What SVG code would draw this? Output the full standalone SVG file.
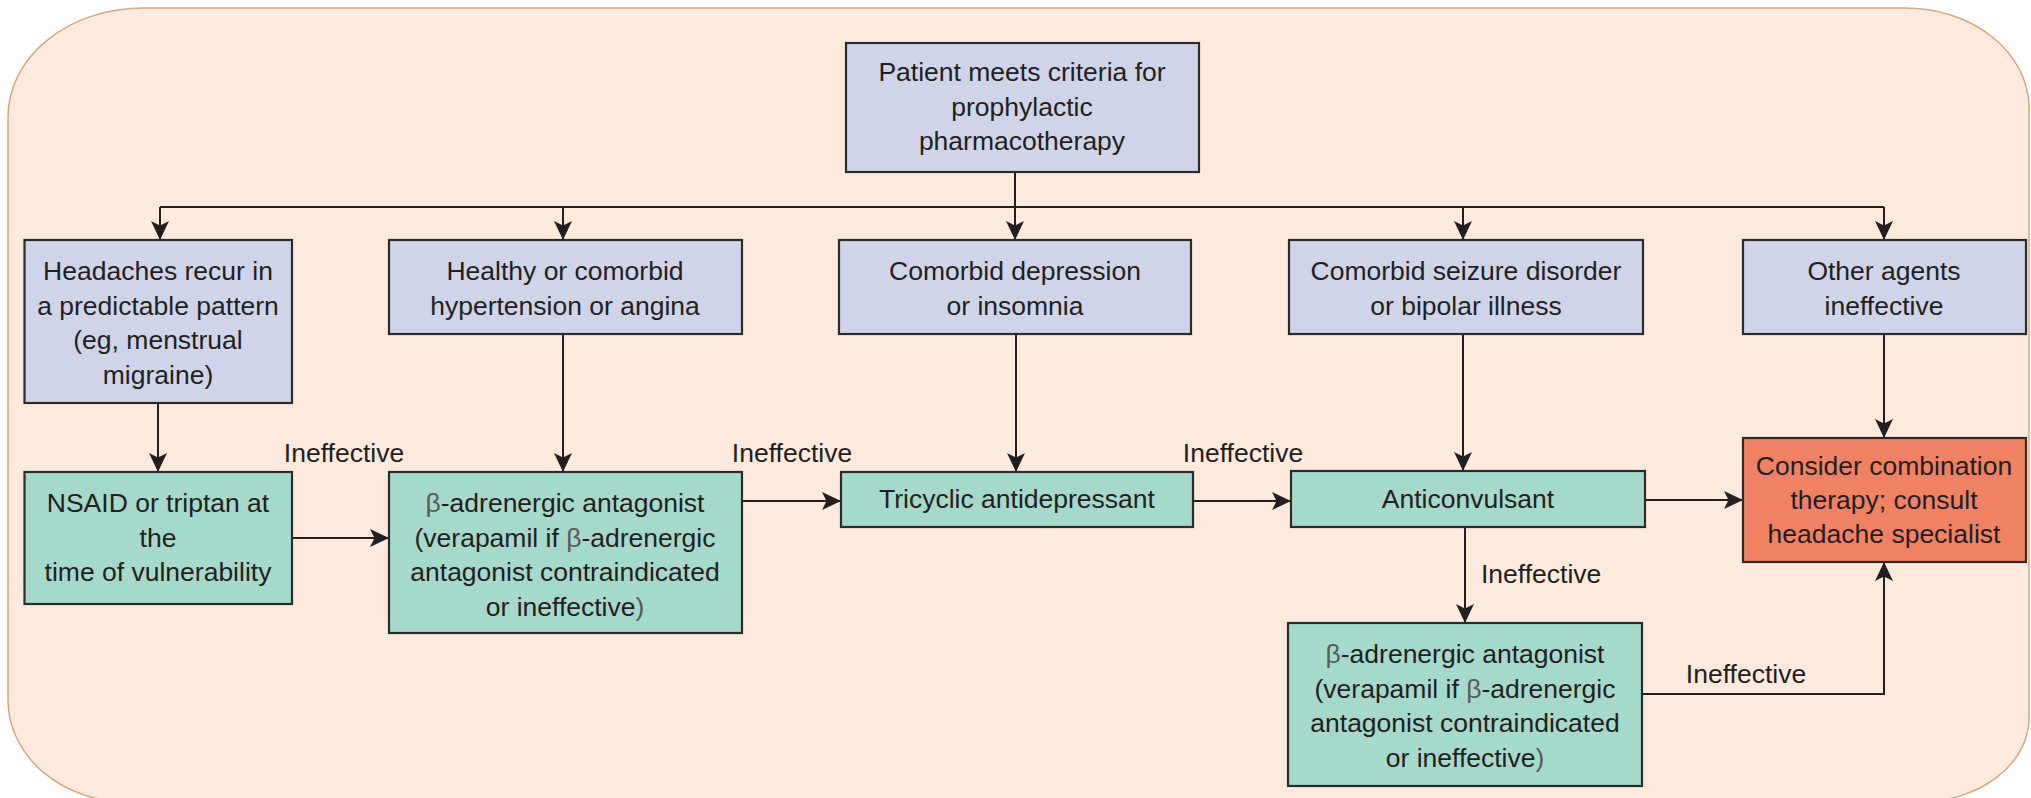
<svg xmlns="http://www.w3.org/2000/svg" width="2031" height="798" viewBox="0 0 2031 798">
<style>
.t{font-family:"Liberation Sans",Arial,sans-serif;font-size:26.5px;fill:#231f20;text-anchor:middle}
.l{font-family:"Liberation Sans",Arial,sans-serif;font-size:26.5px;fill:#231f20}
.b{fill:#5a5a5a}
.q{fill:#cfd4ea;stroke:#2b2b2b;stroke-width:2.2}
.g{fill:#a5d9cb;stroke:#2b2b2b;stroke-width:2.2}
.o{fill:#f08165;stroke:#2b2b2b;stroke-width:2.2}
.c{fill:none;stroke:#231f20;stroke-width:2;marker-end:url(#ah)}
.c2{fill:none;stroke:#231f20;stroke-width:2}
</style>
<defs>
<marker id="ah" viewBox="0 0 19 18" refX="19" refY="9" markerWidth="19" markerHeight="18" markerUnits="userSpaceOnUse" orient="auto">
<path d="M0,0 L19,9 L0,18 L4.5,9 Z" fill="#231f20"/>
</marker>
</defs>
<rect width="2031" height="798" fill="#ffffff"/>
<path id="background" d="M8,117 A135,109 0 0 1 143,8 L1905,8 A124,100 0 0 1 2029,108 L2029,718 A110,84 0 0 1 1919,802 L128,802 A120,102 0 0 1 8,700 Z" fill="#fdeadd" stroke="#d7a77f" stroke-width="1.5"/>

<g id="connectors">
<path class="c2" d="M1015,172 V207 M160,207 H1884"/>
<path class="c" d="M1015,207 V240"/>
<path class="c" d="M160,207 V240"/>
<path class="c" d="M563,207 V240"/>
<path class="c" d="M1463,207 V240"/>
<path class="c" d="M1884,207 V240"/>
<path class="c" d="M158,403 V472"/>
<path class="c" d="M563,334 V472"/>
<path class="c" d="M1016,334 V472"/>
<path class="c" d="M1463,334 V471"/>
<path class="c" d="M1884,334 V438"/>
<path class="c" d="M292,538 H389"/>
<path class="c" d="M742,501 H841"/>
<path class="c" d="M1193,501 H1291"/>
<path class="c" d="M1645,500 H1743"/>
<path class="c" d="M1465,527 V623"/>
<path class="c" d="M1642,694 H1884 V562"/>
<text class="t" x="344" y="462">Ineffective</text>
<text class="t" x="792" y="462">Ineffective</text>
<text class="t" x="1243" y="462">Ineffective</text>
<text class="l" x="1481" y="583">Ineffective</text>
<text class="t" x="1746" y="683">Ineffective</text>
</g>

<g id="patient">
<rect class="q" x="846" y="43" width="353" height="129"/>
<text class="t" x="1022" y="81">Patient meets criteria for</text>
<text class="t" x="1022" y="115.5">prophylactic</text>
<text class="t" x="1022" y="150">pharmacotherapy</text>
</g>

<g id="headaches">
<rect class="q" x="24.5" y="240" width="267.5" height="163"/>
<text class="t" x="158" y="280">Headaches recur in</text>
<text class="t" x="158" y="314.5">a predictable pattern</text>
<text class="t" x="158" y="349">(eg, menstrual</text>
<text class="t" x="158" y="383.5">migraine)</text>
</g>

<g id="healthy">
<rect class="q" x="389" y="240" width="353" height="94"/>
<text class="t" x="565" y="280">Healthy or comorbid</text>
<text class="t" x="565" y="314.5">hypertension or angina</text>
</g>

<g id="depression">
<rect class="q" x="839" y="240" width="352" height="94"/>
<text class="t" x="1015" y="280">Comorbid depression</text>
<text class="t" x="1015" y="314.5">or insomnia</text>
</g>

<g id="seizure">
<rect class="q" x="1289" y="240" width="354" height="94"/>
<text class="t" x="1466" y="280">Comorbid seizure disorder</text>
<text class="t" x="1466" y="314.5">or bipolar illness</text>
</g>

<g id="other">
<rect class="q" x="1743" y="240" width="283" height="94"/>
<text class="t" x="1884" y="280">Other agents</text>
<text class="t" x="1884" y="314.5">ineffective</text>
</g>

<g id="nsaid">
<rect class="g" x="24.5" y="472" width="267.5" height="132"/>
<text class="t" x="158" y="512">NSAID or triptan at</text>
<text class="t" x="158" y="546.5">the</text>
<text class="t" x="158" y="581">time of vulnerability</text>
</g>

<g id="beta1">
<rect class="g" x="389" y="472" width="353" height="161"/>
<text class="t" x="565" y="512"><tspan class="b">β</tspan>-adrenergic antagonist</text>
<text class="t" x="565" y="546.5">(verapamil if <tspan class="b">β</tspan>-adrenergic</text>
<text class="t" x="565" y="581">antagonist contraindicated</text>
<text class="t" x="565" y="615.5">or ineffective<tspan class="b">)</tspan></text>
</g>

<g id="tricyclic">
<rect class="g" x="841" y="472" width="352" height="55"/>
<text class="t" x="1017" y="508">Tricyclic antidepressant</text>
</g>

<g id="anticonvulsant">
<rect class="g" x="1291" y="471" width="354" height="56"/>
<text class="t" x="1468" y="508">Anticonvulsant</text>
</g>

<g id="consider">
<rect class="o" x="1743" y="438" width="283" height="124"/>
<text class="t" x="1884" y="475">Consider combination</text>
<text class="t" x="1884" y="509">therapy; consult</text>
<text class="t" x="1884" y="543">headache specialist</text>
</g>

<g id="beta2">
<rect class="g" x="1288" y="623" width="354" height="163"/>
<text class="t" x="1465" y="663"><tspan class="b">β</tspan>-adrenergic antagonist</text>
<text class="t" x="1465" y="697.5">(verapamil if <tspan class="b">β</tspan>-adrenergic</text>
<text class="t" x="1465" y="732">antagonist contraindicated</text>
<text class="t" x="1465" y="766.5">or ineffective<tspan class="b">)</tspan></text>
</g>
</svg>
